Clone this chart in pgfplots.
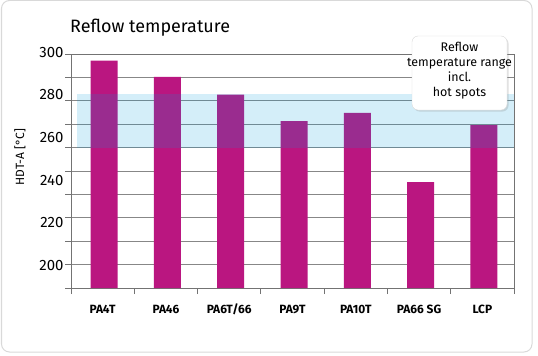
\documentclass[border=0pt]{standalone}
\usepackage{pgfplots}
\pgfplotsset{compat=1.18}
\usepackage{fontspec}
\setmainfont{Fira Sans}
\usetikzlibrary{shadows}
\definecolor{barmag}{RGB}{186,22,128}
\definecolor{bandblue}{RGB}{0,155,220}
\definecolor{gridgray}{RGB}{135,135,135}
\definecolor{axisgray}{RGB}{115,115,115}
\begin{document}
\begin{tikzpicture}[x=1bp,y=1bp]
\path[use as bounding box] (0,0) rectangle (538,355);
\draw[gray!30, line width=1bp, rounded corners=8bp] (1.5,3) rectangle (532,354.5);
\node[anchor=base west, font=\fontsize{18}{21}\selectfont, inner sep=0] at (70,323) {Reflow temperature};
\node[rotate=90, font=\fontsize{12}{14}\selectfont] at (20,198) {HDT-A [°C]};
\begin{axis}[at={(71bp,67bp)}, anchor=south west, scale only axis,
  width=443bp, height=234bp,
  xmin=-0.5, xmax=6.5, ymin=190, ymax=300,
  xtick={-0.5,0.5,...,6.5}, x tick label as interval,
  xticklabels={PA4T,PA46,PA6T/66,PA9T,PA10T,PA66 SG,LCP},
  typeset ticklabels with strut,
  ytick={190,201,...,300}, yticklabels={},
  extra y ticks={200,220,...,300},
  extra y tick labels={200,220,240,260,280,300},
  extra y tick style={grid=none, major tick length=0pt},
  ymajorgrids, major grid style={gridgray, line width=0.8bp},
  axis line style={axisgray, line width=0.9bp},
  tick style={axisgray, line width=0.9bp}, tick align=outside,
  major tick length=6bp, tick pos=left,
  xticklabel style={font=\fontsize{12}{14}\selectfont\bfseries, yshift=-6bp},
  yticklabel style={font=\fontsize{15}{17}\selectfont, xshift=-4bp},
  /pgf/number format/assume math mode=true]
\addplot[ybar, bar width=27bp, bar shift=1.5bp, fill=barmag, draw=none]
  coordinates {(0,296.9) (1,289.2) (2,280.9) (3,268.5) (4,272.3) (5,239.8) (6,266.6)};
\addplot[draw=none, fill=bandblue, fill opacity=0.17]
  coordinates {(-0.4,255.8) (6.5,255.8) (6.5,281) (-0.4,281)} -- cycle;
\end{axis}
\node[draw=gray!30, fill=white, rounded corners=6bp,
  drop shadow={opacity=0.25, shadow xshift=1.5bp, shadow yshift=-1.5bp},
  minimum width=95bp, minimum height=74bp] at (459.5,282) {};
\node[align=center, font=\fontsize{12.5}{15}\selectfont, inner sep=0, anchor=north]
  at (459.5,313) {Reflow\\temperature range\\incl.\\hot spots};
\end{tikzpicture}
\end{document}
